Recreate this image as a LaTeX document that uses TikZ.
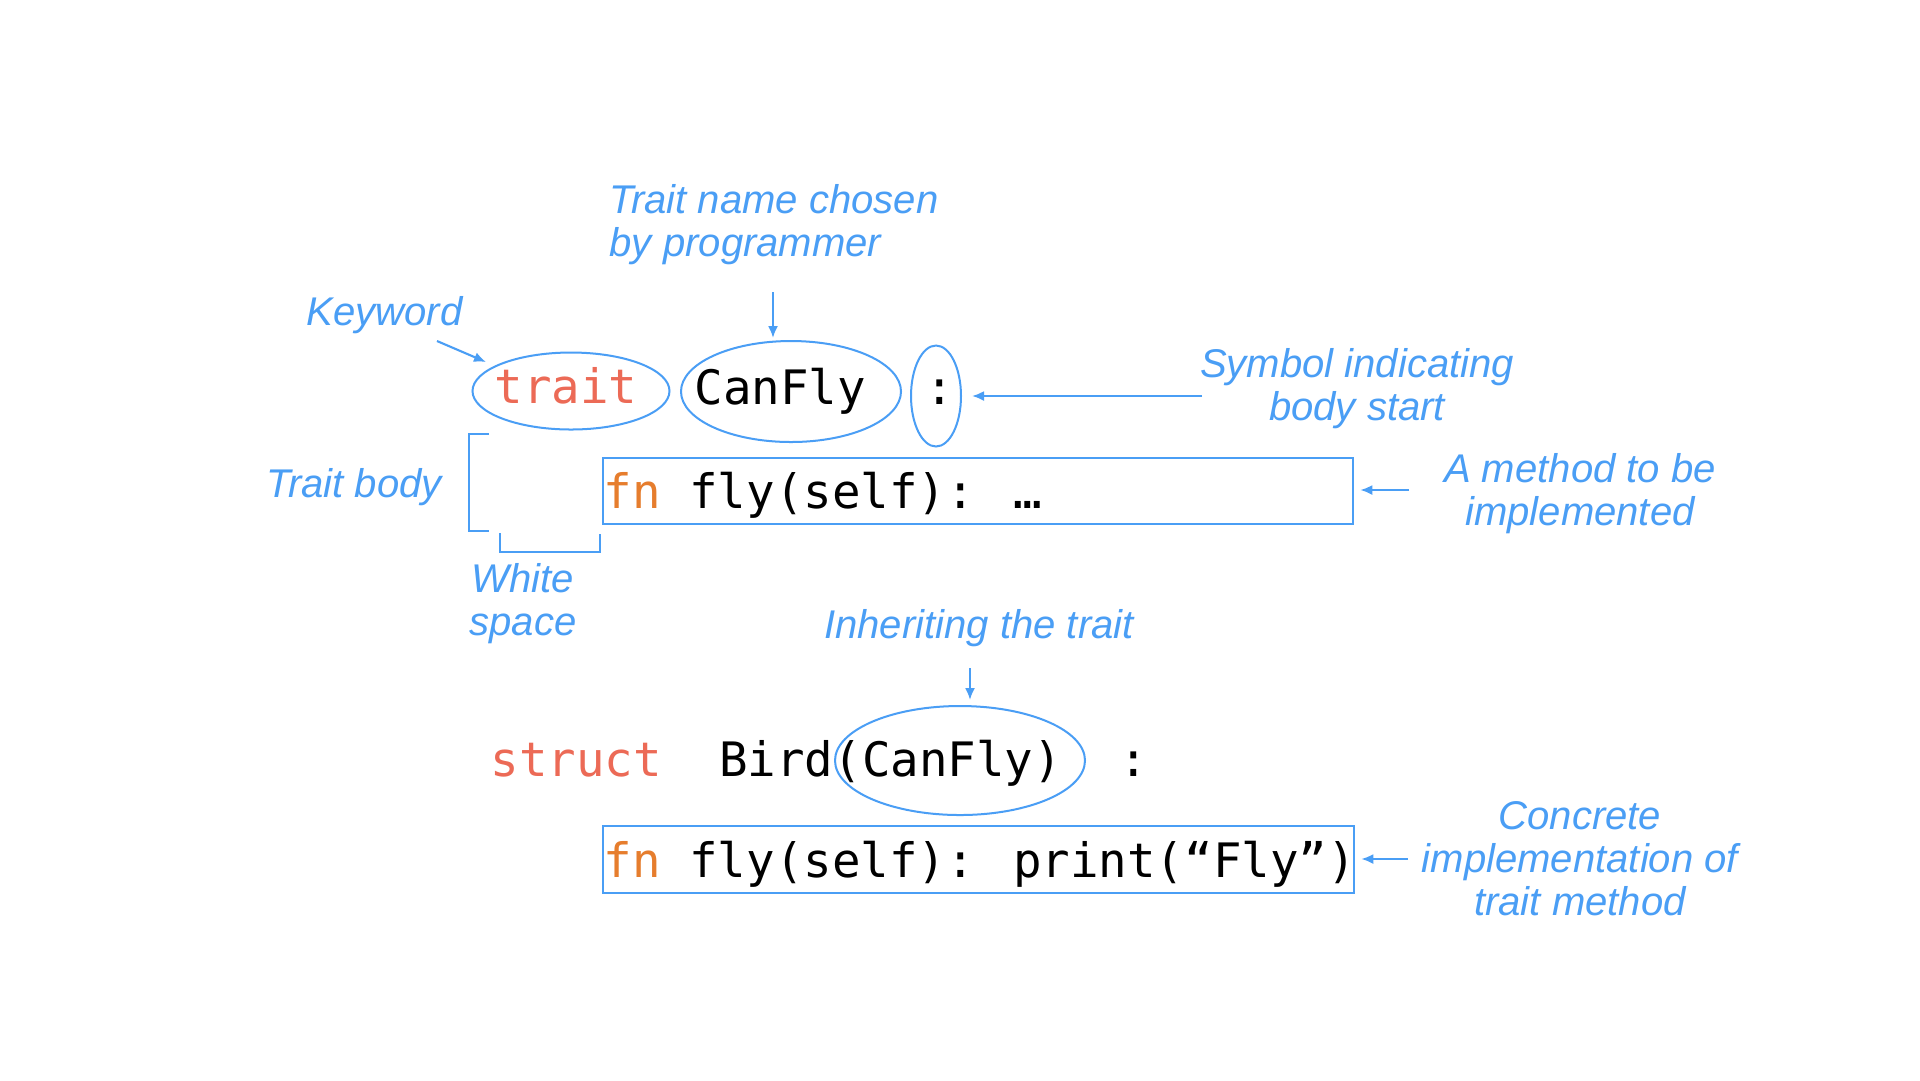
\documentclass[tikz,border=0pt]{standalone}
\usepackage{fontspec}
\usetikzlibrary{shapes.geometric,arrows.meta}
\newfontfamily\lblfont{Liberation Sans}
\newfontfamily\codefont{DejaVu Sans Mono}
\definecolor{lblue}{RGB}{74,158,245}
\definecolor{kwred}{RGB}{236,106,86}
\definecolor{fnorange}{RGB}{230,125,45}
\tikzset{
  lbl/.style={font={\lblfont\itshape\fontsize{11.4pt}{12.24pt}\selectfont}, text=lblue, inner sep=0pt},
  codetxt/.style={font={\codefont\fontsize{13.5pt}{16pt}\selectfont}, inner sep=0pt},
  ell/.style={draw=lblue, line width=0.57pt, ellipse, inner sep=0pt},
  codebox/.style={draw=lblue, line width=0.65pt, rectangle, inner sep=0pt, anchor=north west},
  arr/.style={draw=lblue, line width=0.6pt, -{Latex[length=1.2mm,width=1mm]}},
  brk/.style={draw=lblue, line width=0.57pt}
}
\begin{document}
\begin{tikzpicture}[x=0.1mm,y=-0.1mm]
\useasboundingbox (0,0) rectangle (1920,1080);
\fill[white] (0,0) rectangle (1920,1080);

% ---- first line: trait CanFly :
\node[codetxt, text=kwred, anchor=base] (traittxt) at (566,403) {trait};
\node[ell, minimum width=19.7mm, minimum height=7.7mm] (traitell) at (571,391) {};
\node[codetxt, anchor=base west] (canflytxt) at (694,404) {CanFly};
\node[ell, minimum width=22mm, minimum height=10.1mm] (canflyell) at (791,391.5) {};
\node[codetxt, anchor=base] (colontxt) at (940,404) {:};
\node[ell, minimum width=5mm, minimum height=10.1mm] (colonell) at (936,396) {};

% ---- method box 1
\node[codebox, minimum width=75mm, minimum height=6.6mm] (box1) at (602,457) {};
\node[codetxt, anchor=base west] (box1txt) at (603,508.5) {\textcolor{fnorange}{fn} fly(self): …};

% ---- second line: struct Bird(CanFly) :
\node[codetxt, anchor=base west] (structtxt) at (490,776) {\textcolor{kwred}{struct}\ \ Bird(CanFly)\ \ :};
\node[ell, minimum width=25mm, minimum height=10.9mm] (inhell) at (960,760.5) {};

% ---- method box 2
\node[codebox, minimum width=75.1mm, minimum height=6.7mm] (box2) at (602,825) {};
\node[codetxt, anchor=base west] (box2txt) at (603,877) {\textcolor{fnorange}{fn} fly(self): print(“Fly”)};

% ---- labels
\node[lbl, anchor=base west] (namelbl) at (609,213) {\begin{tabular}[t]{@{}l@{}}Trait name chosen\\by programmer\end{tabular}};
\node[lbl, anchor=base west] (kwlbl) at (306,325) {Keyword};
\node[lbl, anchor=base] (symlbl) at (1357,377) {\begin{tabular}[t]{@{}c@{}}Symbol indicating\\body start\end{tabular}};
\node[lbl, anchor=base west] (bodylbl) at (266,497) {Trait body};
\node[lbl, anchor=base] (methlbl) at (1580,482) {\begin{tabular}[t]{@{}c@{}}A method to be\\implemented\end{tabular}};
\node[lbl, anchor=base] (wslbl) at (523,592) {\begin{tabular}[t]{@{}c@{}}White\\space\end{tabular}};
\node[lbl, anchor=base] (inhlbl) at (979,638) {Inheriting the trait};
\node[lbl, anchor=base] (conclbl) at (1580,829) {\begin{tabular}[t]{@{}c@{}}Concrete\\implementation of\\trait method\end{tabular}};

% ---- arrow end points
\coordinate (nameA) at (773,292);
\coordinate (nameB) at (773,338);
\coordinate (kwA) at (437,341);
\coordinate (kwB) at (486,362);
\coordinate (symA) at (1202,396);
\coordinate (methA) at (1409,490);
\coordinate (inhA) at (970,668);
\coordinate (inhB) at (970,700);
\coordinate (concA) at (1408,859);

% ---- arrows
\draw[arr] (nameA) -- (nameB);
\draw[arr] (kwA) -- (kwB);
\draw[arr, shorten >=1mm] (symA) -- (colonell.east |- symA);
\draw[arr, shorten >=0.6mm] (methA) -- (box1.east |- methA);
\draw[arr] (inhA) -- (inhB);
\draw[arr, shorten >=0.6mm] (concA) -- (box2.east |- concA);

% ---- brackets
\draw[brk] (489,434) -- (469,434) -- (469,531) -- (489,531);
\draw[brk] (500,533) -- (500,552) -- (600,552) -- (600,534);
\end{tikzpicture}
\end{document}
